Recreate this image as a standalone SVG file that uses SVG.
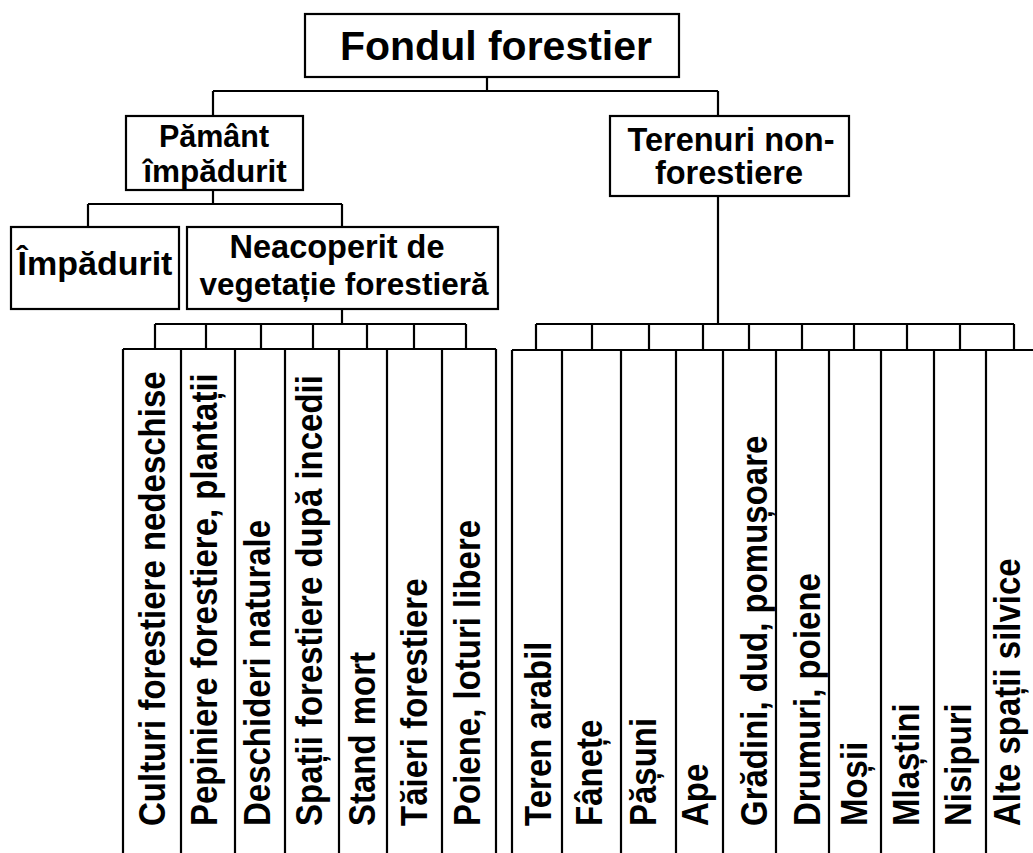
<svg xmlns="http://www.w3.org/2000/svg" width="1033" height="853" viewBox="0 0 1033 853">
<style>
.box{fill:#fff;stroke:#000;stroke-width:2.2}
.ln{fill:none;stroke:#000;stroke-width:2.2}
.t{font-family:"Liberation Sans",Arial,sans-serif;font-weight:bold;fill:#000;text-anchor:middle}
.v{font-family:"Liberation Sans",Arial,sans-serif;font-weight:bold;fill:#000;font-size:33px}
</style>
<rect width="1033" height="853" fill="#fff"/>
<g id="connectors">
<path class="ln" d="M487 77V91M213 91H718M213 91V116M718 91V116"/>
<path class="ln" d="M213 190V204M88 204H342M88 204V227M342 204V227"/>
<path class="ln" d="M342 309V324M155 324H466M155 324V349M206 324V349M261 324V349M313 324V349M367 324V349M414 324V349M466 324V349"/>
<path class="ln" d="M718 196V324M536 324H1014M536 324V350M592 324V350M649 324V350M703 324V350M749 324V350M802 324V350M854 324V350M907 324V350M960 324V350M1014 324V350"/>
</g>
<g id="root"><rect class="box" x="305" y="14" width="374" height="63"/><text class="t" x="496" y="60" font-size="41">Fondul forestier</text></g>
<g id="pamant"><rect class="box" x="126" y="116" width="177" height="74"/><text class="t" x="214" y="147" font-size="30.5">Pământ</text><text class="t" x="215" y="181.5" font-size="31.5">împădurit</text></g>
<g id="terenuri"><rect class="box" x="610" y="116" width="239" height="80"/><text class="t" x="731" y="151" font-size="32.5">Terenuri non-</text><text class="t" x="729" y="184" font-size="32.5">forestiere</text></g>
<g id="impadurit"><rect class="box" x="11" y="227" width="168" height="82"/><text class="t" x="95" y="275" font-size="34">Împădurit</text></g>
<g id="neacoperit"><rect class="box" x="187" y="227" width="311" height="82"/><text class="t" x="337" y="258" font-size="32.5">Neacoperit de</text><text class="t" x="344" y="295" font-size="31.5">vegetație forestieră</text></g>
<g id="left-leaves">
<path class="ln" d="M123 349H496M123 349V853M181 349V853M235 349V853M285 349V853M339 349V853M387 349V853M442 349V853M496 349V853"/>
<text class="v" transform="translate(165,826) rotate(-90) scale(1,1.1)">Culturi forestiere nedeschise</text>
<text class="v" transform="translate(217,826) rotate(-90) scale(1,1.1)">Pepiniere forestiere, plantații</text>
<text class="v" transform="translate(270,826) rotate(-90) scale(1,1.1)">Deschideri naturale</text>
<text class="v" transform="translate(322,826) rotate(-90) scale(1,1.1)">Spații forestiere după incedii</text>
<text class="v" transform="translate(375,826) rotate(-90) scale(1,1.1)">Stand mort</text>
<text class="v" transform="translate(427,826) rotate(-90) scale(1,1.1)">Tăieri forestiere</text>
<text class="v" transform="translate(480,826) rotate(-90) scale(1,1.1)">Poiene, loturi libere</text>
</g>
<g id="right-leaves">
<path class="ln" d="M512 350H1042M512 350V853M562 350V853M621 350V853M676 350V853M723 350V853M776 350V853M829 350V853M881 350V853M934 350V853M986 350V853M1042 350V853"/>
<text class="v" transform="translate(551,826) rotate(-90) scale(1,1.1)">Teren arabil</text>
<text class="v" transform="translate(602,826) rotate(-90) scale(1,1.1)">Fânețe</text>
<text class="v" transform="translate(656,826) rotate(-90) scale(1,1.1)">Pășuni</text>
<text class="v" transform="translate(708,826) rotate(-90) scale(1,1.1)">Ape</text>
<text class="v" transform="translate(767,826) rotate(-90) scale(1,1.1)">Grădini, dud, pomușoare</text>
<text class="v" transform="translate(820,826) rotate(-90) scale(1,1.1)">Drumuri, poiene</text>
<text class="v" transform="translate(867,826) rotate(-90) scale(1,1.1)">Moșii</text>
<text class="v" transform="translate(919,826) rotate(-90) scale(1,1.1)">Mlaștini</text>
<text class="v" transform="translate(971,826) rotate(-90) scale(1,1.1)">Nisipuri</text>
<text class="v" transform="translate(1020,826) rotate(-90) scale(1,1.1)">Alte spații silvice</text>
</g>
</svg>
